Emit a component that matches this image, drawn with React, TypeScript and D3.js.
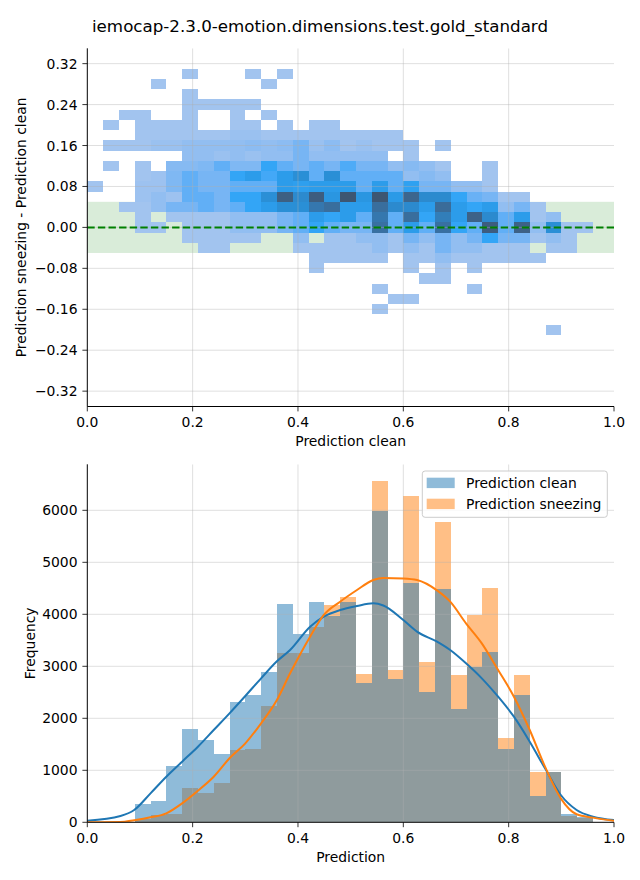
import React from "react";
import * as d3 from "d3";

// ---------------- DATA ----------------
const TITLE = "iemocap-2.3.0-emotion.dimensions.test.gold_standard";

// x bin edges shared by both panels (32 bins, width 0.03)
const BIN_EDGES = d3.range(0, 33).map((k) => +(k * 0.03).toFixed(2));

// 2D histogram (top panel): row centres of the y bins (height 0.02)
const ROW_CENTERS = [
  0.3, 0.28, 0.26, 0.24, 0.22, 0.2, 0.18, 0.16, 0.14, 0.12, 0.1, 0.08, 0.06,
  0.04, 0.02, 0.0, -0.02, -0.04, -0.06, -0.08, -0.1, -0.12, -0.14, -0.16, -0.18, -0.2,
];
// counts per cell, one row per ROW_CENTERS entry, 32 x bins each
const HEAT_COUNTS = [
  [0,0,0,0,0,0,4,0,0,0,4,0,4,0,0,0,0,0,0,0,0,0,0,0,0,0,0,0,0,0,0,0],
  [0,0,0,0,4,0,0,0,0,0,0,4,0,0,0,0,0,0,0,0,0,0,0,0,0,0,0,0,0,0,0,0],
  [0,0,0,0,0,0,4,0,0,0,0,0,0,0,0,0,0,0,0,0,0,0,0,0,0,0,0,0,0,0,0,0],
  [0,0,0,0,0,0,4,4,4,4,4,0,0,0,0,0,0,0,0,0,0,0,0,0,0,0,0,0,0,0,0,0],
  [0,0,4,4,0,0,4,0,0,4,0,4,0,0,0,0,0,0,0,0,0,0,0,0,0,0,0,0,0,0,0,0],
  [0,4,0,4,4,4,4,0,0,4,4,0,4,0,4,4,0,0,0,0,0,0,0,0,0,0,0,0,0,0,0,0],
  [0,0,0,4,4,4,4,4,4,7,7,4,4,4,4,4,4,4,4,4,0,0,0,0,0,0,0,0,0,0,0,0],
  [0,4,4,4,7,7,10,10,10,10,12,10,12,18,7,12,4,7,4,4,4,0,4,0,0,0,0,0,0,0,0,0],
  [0,0,0,0,0,0,10,10,7,10,7,10,10,18,10,10,10,10,10,0,4,0,0,0,0,0,0,0,0,0,0,0],
  [0,4,0,4,0,14,14,16,24,16,16,33,24,18,24,18,28,18,18,10,14,10,4,0,0,4,0,0,0,0,0,0],
  [0,0,0,4,6,16,24,18,18,33,40,30,40,51,24,51,24,24,24,24,10,14,10,0,0,4,0,0,0,0,0,0],
  [4,0,0,6,6,16,24,18,18,24,24,24,40,38,40,40,40,24,40,24,36,18,18,10,10,4,0,0,0,0,0,0],
  [0,0,0,6,10,6,24,24,18,33,33,51,90,55,92,45,98,45,98,42,85,55,55,33,22,18,4,4,0,0,0,0],
  [0,0,4,4,10,18,18,24,18,24,33,40,51,51,70,78,40,40,78,55,55,40,80,40,33,40,10,18,4,0,0,0],
  [0,0,0,4,0,4,4,4,4,10,10,10,18,24,40,33,40,24,70,24,78,33,65,40,88,55,24,40,4,10,0,0],
  [0,0,0,4,4,0,4,4,4,10,10,10,18,24,33,24,18,18,76,24,40,24,76,33,24,92,24,88,10,51,4,4],
  [0,0,0,0,0,0,4,4,4,4,4,0,0,10,0,4,4,10,10,4,18,10,18,10,18,33,18,18,4,10,4,0],
  [0,0,0,0,0,0,0,4,4,0,0,0,0,4,4,4,4,4,10,4,10,4,18,10,10,4,4,4,0,4,4,0],
  [0,0,0,0,0,0,0,0,0,0,0,0,0,0,4,4,4,4,4,0,4,4,10,4,4,4,4,4,4,0,0,0],
  [0,0,0,0,0,0,0,0,0,0,0,0,0,0,4,0,0,0,0,0,4,0,4,0,4,0,0,0,0,0,0,0],
  [0,0,0,0,0,0,0,0,0,0,0,0,0,0,0,0,0,0,0,0,0,4,4,0,0,0,0,0,0,0,0,0],
  [0,0,0,0,0,0,0,0,0,0,0,0,0,0,0,0,0,0,4,0,0,0,0,0,4,0,0,0,0,0,0,0],
  [0,0,0,0,0,0,0,0,0,0,0,0,0,0,0,0,0,0,0,4,4,0,0,0,0,0,0,0,0,0,0,0],
  [0,0,0,0,0,0,0,0,0,0,0,0,0,0,0,0,0,0,4,0,0,0,0,0,0,0,0,0,0,0,0,0],
  [0,0,0,0,0,0,0,0,0,0,0,0,0,0,0,0,0,0,0,0,0,0,0,0,0,0,0,0,0,0,0,0],
  [0,0,0,0,0,0,0,0,0,0,0,0,0,0,0,0,0,0,0,0,0,0,0,0,0,0,0,0,0,4,0,0],
];
const HEAT_VMAX = 100;
const TOL_BAND = [-0.05, 0.05];

const TOP_X_TICKS = [0, 0.2, 0.4, 0.6, 0.8, 1.0];
const TOP_Y_TICKS = [-0.32, -0.24, -0.16, -0.08, 0, 0.08, 0.16, 0.24, 0.32];

// bottom panel histograms (counts per bin)
const HIST_CLEAN = [
  0, 0, 0, 350, 410, 1083, 1794, 1583, 1314, 2314, 2449, 2891, 4198, 3621, 4237, 3967,
  4230, 2686, 5994, 2756, 4602, 2512, 4493, 2179, 2994, 3275, 1410, 2448, 506, 967, 160, 105,
];
const HIST_SNEEZING = [
  0, 0, 0, 60, 140, 166, 666, 570, 762, 1391, 1417, 2237, 3262, 3262, 3763, 4179,
  4340, 2852, 6563, 2929, 6275, 3083, 5775, 2833, 3987, 4506, 1621, 2833, 967, 960, 120, 85,
];
// KDE curves
const KDE_X = [
  0, 0.063, 0.089, 0.12, 0.15, 0.18, 0.21, 0.24, 0.27, 0.3, 0.33, 0.36, 0.385, 0.423, 0.449,
  0.48, 0.512, 0.543, 0.562, 0.6, 0.626, 0.664, 0.689, 0.719, 0.749, 0.78, 0.81, 0.84, 0.869,
  0.899, 0.929, 0.96, 1.0,
];
const KDE_CLEAN = [
  31, 121, 236, 557, 877, 1166, 1454, 1775, 2096, 2429, 2769, 3096, 3313, 3762, 3955,
  4083, 4160, 4211, 4170, 3890, 3666, 3474, 3313, 3058, 2769, 2416, 2031, 1550, 1038,
  525, 237, 108, 44,
];
const KDE_SNEEZING = [
  0, 5, 40, 96, 173, 365, 608, 877, 1231, 1519, 1904, 2352, 2865, 3570, 3987,
  4243, 4468, 4660, 4700, 4690, 4660, 4460, 4243, 3827, 3442, 2929, 2416, 1775, 1070,
  461, 154, 90, 30,
];
const BOTTOM_Y_TICKS = [0, 1000, 2000, 3000, 4000, 5000, 6000];
const SERIES = ["Prediction clean", "Prediction sneezing"];

// ---------------- HUSL colormap (seaborn style) ----------------
const M = [
  [3.240969941904521, -1.537383177570093, -0.498610760293],
  [-0.96924363628087, 1.87596750150772, 0.041555057407175],
  [0.055630079696993, -0.20397695888897, 1.056971514242878],
];
const MINV = [
  [0.41239079926595, 0.35758433938387, 0.18048078840183],
  [0.21263900587151, 0.71516867876775, 0.072192315360733],
  [0.019330818715591, 0.11919477979462, 0.95053215224966],
];
const refU = 0.19783000664283;
const refV = 0.46831999493879;
const kappa = 903.2962962;
const eps = 0.0088564516;
const dot = (a: number[], b: number[]) => a[0] * b[0] + a[1] * b[1] + a[2] * b[2];
function bounds(L: number) {
  const res: number[][] = [];
  const sub1 = Math.pow(L + 16, 3) / 1560896;
  const sub2 = sub1 > eps ? sub1 : L / kappa;
  for (let c = 0; c < 3; c++) {
    const [m1, m2, m3] = M[c];
    for (let t = 0; t < 2; t++) {
      const top1 = (284517 * m1 - 94839 * m3) * sub2;
      const top2 = (838422 * m3 + 769860 * m2 + 731718 * m1) * L * sub2 - 769860 * t * L;
      const bottom = (632260 * m3 - 126452 * m2) * sub2 + 126452 * t;
      res.push([top1 / bottom, top2 / bottom]);
    }
  }
  return res;
}
function maxChroma(L: number, H: number) {
  const hr = (H / 360) * Math.PI * 2;
  let min = Infinity;
  for (const [s, i] of bounds(L)) {
    const len = i / (Math.sin(hr) - s * Math.cos(hr));
    if (len >= 0) min = Math.min(min, len);
  }
  return min;
}
const toLin = (c: number) => (c > 0.04045 ? Math.pow((c + 0.055) / 1.055, 2.4) : c / 12.92);
const fromLin = (c: number) => (c <= 0.0031308 ? 12.92 * c : 1.055 * Math.pow(c, 1 / 2.4) - 0.055);
function rgbToHusl(r: number, g: number, b: number) {
  const rl = [toLin(r), toLin(g), toLin(b)];
  const X = dot(MINV[0], rl), Y = dot(MINV[1], rl), Z = dot(MINV[2], rl);
  const L = Y <= eps ? Y * kappa : 116 * Math.cbrt(Y) - 16;
  const d = X + 15 * Y + 3 * Z;
  const U = 13 * L * (4 * X / d - refU);
  const V = 13 * L * (9 * Y / d - refV);
  const C = Math.hypot(U, V);
  let H = (Math.atan2(V, U) * 180) / Math.PI;
  if (H < 0) H += 360;
  return [H, (C / maxChroma(L, H)) * 100, L];
}
function huslToRgb(H: number, S: number, L: number) {
  if (L > 99.9999999) return [1, 1, 1];
  if (L < 1e-8) return [0, 0, 0];
  const C = (maxChroma(L, H) / 100) * S;
  const hr = (H / 180) * Math.PI;
  const U = Math.cos(hr) * C, V = Math.sin(hr) * C;
  const vU = U / (13 * L) + refU, vV = V / (13 * L) + refV;
  const Y = L <= 8 ? L / kappa : Math.pow((L + 16) / 116, 3);
  const X = 0 - (9 * Y * vU) / ((vU - 4) * vV - vU * vV);
  const Z = (9 * Y - 15 * vV * Y - vV * X) / (3 * vV);
  const xyz = [X, Y, Z];
  return [0, 1, 2].map((i) => Math.min(1, Math.max(0, fromLin(dot(M[i], xyz)))));
}
function makeCmap(hex: string) {
  const c = d3.rgb(hex);
  const [h, s] = rgbToHusl(c.r / 255, c.g / 255, c.b / 255);
  const n = 256;
  const m = Math.floor(1.15 * 256);
  const cols: string[] = [];
  for (let i = 0; i < n; i++) {
    const xx = -1 + (2 * i) / (m - 1);
    const L = 35 + (45 * i) / (n - 1);
    const rgb = huslToRgb(h, s * Math.cos(xx), L);
    cols.push(d3.rgb(rgb[0] * 255, rgb[1] * 255, rgb[2] * 255).formatHex());
  }
  cols.reverse();
  return (t: number) => cols[Math.max(0, Math.min(n - 1, Math.floor(t * n)))];
}

// ---------------- CHART ----------------
const FONT = "DejaVu Sans, sans-serif";
const C0 = "#1f77b4";
const C1 = "#ff7f0e";
const GRID = { stroke: "#b0b0b0", strokeOpacity: 0.5, strokeWidth: 0.8 };

export default function App() {
  const W = 640, H = 880;
  const left = 87.3, right = 614;
  const x = d3.scaleLinear().domain([0, 1]).range([left, right]);
  const yT = d3.scaleLinear().domain([-0.35, 0.35]).range([406.5, 48.3]);
  const yB = d3.scaleLinear().domain([0, 6885]).range([822.3, 464.3]);
  const cmap = makeCmap(C0);
  const fmt2 = d3.format(".2f");
  const fmt1 = d3.format(".1f");
  const tick = 4.9;

  const cells: React.ReactNode[] = [];
  HEAT_COUNTS.forEach((row, i) => {
    const yc = ROW_CENTERS[i];
    row.forEach((c, k) => {
      if (c <= 0) return;
      const x0 = x(BIN_EDGES[k]), x1 = x(BIN_EDGES[k + 1]);
      const y0 = yT(yc + 0.01), y1 = yT(yc - 0.01);
      cells.push(
        <rect key={`c${i}-${k}`} x={x0} y={y0} width={x1 - x0} height={y1 - y0}
          fill={cmap(c / HEAT_VMAX)} shapeRendering="crispEdges" />
      );
    });
  });

  const bars = (vals: number[], color: string, key: string) =>
    vals.map((v, k) =>
      v > 0 ? (
        <rect key={`${key}${k}`} x={x(BIN_EDGES[k])} y={yB(v)}
          width={x(BIN_EDGES[k + 1]) - x(BIN_EDGES[k])} height={yB(0) - yB(v)}
          fill={color} fillOpacity={0.5} shapeRendering="crispEdges" />
      ) : null
    );

  const line = d3.line<number>().x((_, i) => x(KDE_X[i])).y((d) => yB(d)).curve(d3.curveMonotoneX);

  const topBottom = 406.5, topTop = 48.3;
  const botBottom = 822.3, botTop = 464.3;

  return (
    <svg width={W} height={H} style={{ position: "absolute", left: 0, top: 0, background: "#fff" }}
      fontFamily={FONT}>
      <rect x={0} y={0} width={W} height={H} fill="#fff" />
      <text x={320} y={32} fontSize={16.7} textAnchor="middle" fill="#000">{TITLE}</text>

      {/* ---------- top panel ---------- */}
      <defs>
        <clipPath id="clipTop"><rect x={left} y={topTop} width={right - left} height={topBottom - topTop} /></clipPath>
        <clipPath id="clipBot"><rect x={left} y={botTop} width={right - left} height={botBottom - botTop} /></clipPath>
      </defs>
      <g clipPath="url(#clipTop)">
        <rect x={left} y={yT(TOL_BAND[1])} width={right - left} height={yT(TOL_BAND[0]) - yT(TOL_BAND[1])}
          fill="green" fillOpacity={0.15} />
        {cells}
        {TOP_X_TICKS.filter((t) => t > 0 && t < 1).map((t) => (
          <line key={`gx${t}`} x1={x(t)} x2={x(t)} y1={topTop} y2={topBottom} {...GRID} />
        ))}
        {TOP_Y_TICKS.map((t) => (
          <line key={`gy${t}`} x1={left} x2={right} y1={yT(t)} y2={yT(t)} {...GRID} />
        ))}
        <line x1={left} x2={right} y1={yT(0)} y2={yT(0)} stroke="green" strokeWidth={2} strokeDasharray="7.4 3.2" />
      </g>
      <line x1={left} x2={left} y1={topTop} y2={topBottom} stroke="#000" strokeWidth={1} />
      <line x1={left} x2={right} y1={topBottom} y2={topBottom} stroke="#000" strokeWidth={1} />
      {TOP_X_TICKS.map((t) => (
        <g key={`tx${t}`}>
          <line x1={x(t)} x2={x(t)} y1={topBottom} y2={topBottom + tick} stroke="#000" strokeWidth={0.8} />
          <text x={x(t)} y={topBottom + tick + 4.9 + 10.6} fontSize={13.9} textAnchor="middle">{fmt1(t)}</text>
        </g>
      ))}
      {TOP_Y_TICKS.map((t) => (
        <g key={`ty${t}`}>
          <line x1={left - tick} x2={left} y1={yT(t)} y2={yT(t)} stroke="#000" strokeWidth={0.8} />
          <text x={left - tick - 4.9} y={yT(t) + 5} fontSize={13.9} textAnchor="end">{fmt2(t)}</text>
        </g>
      ))}
      <text x={(left + right) / 2} y={446} fontSize={13.9} textAnchor="middle">Prediction clean</text>
      <text transform={`translate(26,${(topTop + topBottom) / 2}) rotate(-90)`} fontSize={13.9} textAnchor="middle">
        Prediction sneezing - Prediction clean
      </text>

      {/* ---------- bottom panel ---------- */}
      <g clipPath="url(#clipBot)">
        {bars(HIST_SNEEZING, C1, "s")}
        {bars(HIST_CLEAN, C0, "c")}
        {TOP_X_TICKS.filter((t) => t > 0 && t < 1).map((t) => (
          <line key={`bgx${t}`} x1={x(t)} x2={x(t)} y1={botTop} y2={botBottom} {...GRID} />
        ))}
        {BOTTOM_Y_TICKS.filter((t) => t > 0).map((t) => (
          <line key={`bgy${t}`} x1={left} x2={right} y1={yB(t)} y2={yB(t)} {...GRID} />
        ))}
        <path d={line(KDE_CLEAN) || ""} fill="none" stroke={C0} strokeWidth={2} />
        <path d={line(KDE_SNEEZING) || ""} fill="none" stroke={C1} strokeWidth={2} />
      </g>
      <line x1={left} x2={left} y1={botTop} y2={botBottom} stroke="#000" strokeWidth={1} />
      <line x1={left} x2={right} y1={botBottom} y2={botBottom} stroke="#000" strokeWidth={1} />
      {TOP_X_TICKS.map((t) => (
        <g key={`bx${t}`}>
          <line x1={x(t)} x2={x(t)} y1={botBottom} y2={botBottom + tick} stroke="#000" strokeWidth={0.8} />
          <text x={x(t)} y={botBottom + tick + 4.9 + 10.6} fontSize={13.9} textAnchor="middle">{fmt1(t)}</text>
        </g>
      ))}
      {BOTTOM_Y_TICKS.map((t) => (
        <g key={`by${t}`}>
          <line x1={left - tick} x2={left} y1={yB(t)} y2={yB(t)} stroke="#000" strokeWidth={0.8} />
          <text x={left - tick - 4.9} y={yB(t) + 5} fontSize={13.9} textAnchor="end">{t}</text>
        </g>
      ))}
      <text x={(left + right) / 2} y={862} fontSize={13.9} textAnchor="middle">Prediction</text>
      <text transform={`translate(35,${(botTop + botBottom) / 2}) rotate(-90)`} fontSize={13.9} textAnchor="middle">
        Frequency
      </text>

      {/* legend */}
      <g>
        <rect x={422.3} y={471} width={185} height={46.3} rx={2.8} fill="#fff" fillOpacity={0.8}
          stroke="#cccccc" strokeWidth={1} />
        {SERIES.map((s, i) => (
          <g key={s}>
            <rect x={426.7} y={477.7 + i * 21} width={28} height={10.4} fill={i === 0 ? C0 : C1} fillOpacity={0.5} />
            <text x={466} y={488.3 + i * 21} fontSize={13.9}>{s}</text>
          </g>
        ))}
      </g>
    </svg>
  );
}
